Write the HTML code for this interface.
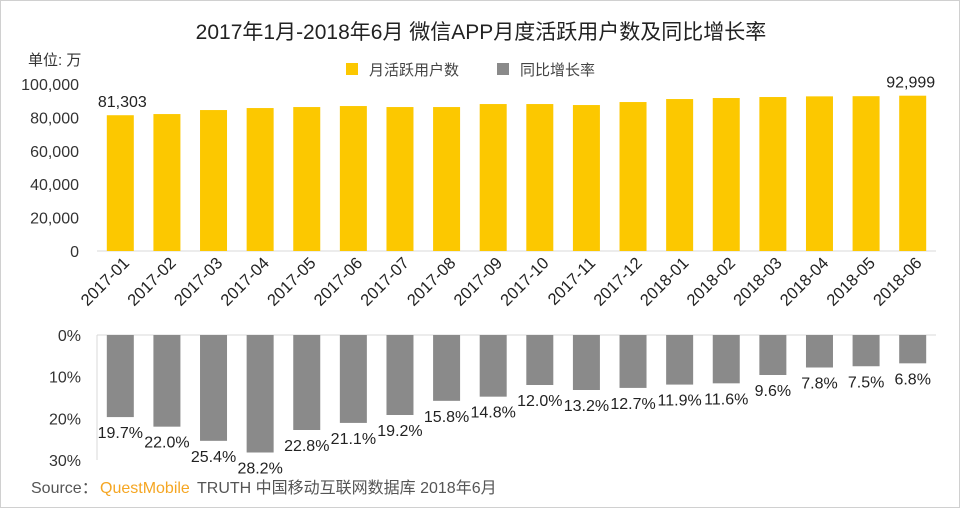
<!DOCTYPE html>
<html><head><meta charset="utf-8"><style>
html,body{margin:0;padding:0;background:#fff}
#wrap{position:relative;width:960px;height:508px;box-sizing:border-box;border:1px solid #d0d0d0;overflow:hidden}
svg text{font-family:"Liberation Sans","Noto Sans CJK SC",sans-serif}
</style></head><body>
<div id="wrap">
<svg id="svg" width="960" height="508" xmlns="http://www.w3.org/2000/svg">
<text x="480" y="38" text-anchor="middle" font-size="21" fill="#222" style="font-family:'Liberation Sans Narrow','Liberation Sans','Noto Sans CJK SC',sans-serif">2017年1月-2018年6月 微信APP月度活跃用户数及同比增长率</text>
<text x="27" y="64" font-size="15" fill="#333">单位: 万</text>
<rect x="345" y="62" width="12" height="12" fill="#fcc800"/>
<text x="368" y="74" font-size="15" fill="#444">月活跃用户数</text>
<rect x="496" y="62" width="12" height="12" fill="#8a8a8a"/>
<text x="519" y="74" font-size="15" fill="#444">同比增长率</text>
<text x="30" y="492" font-size="16" fill="#555">Source：</text>
<text x="99" y="492" font-size="16" fill="#f5a623">QuestMobile</text>
<text x="196" y="492" font-size="16" fill="#555">TRUTH 中国移动互联网数据库 2018年6月</text>
<g id="g"></g>
</svg>
</div>
<script>
const categories=["2017-01","2017-02","2017-03","2017-04","2017-05","2017-06","2017-07","2017-08","2017-09","2017-10","2017-11","2017-12","2018-01","2018-02","2018-03","2018-04","2018-05","2018-06"];
const mau=[81303,82000,84400,85600,86200,86800,86200,86200,88000,88000,87400,89200,91000,91600,92200,92600,92700,92999];
const growth=[19.7,22.0,25.4,28.2,22.8,21.1,19.2,15.8,14.8,12.0,13.2,12.7,11.9,11.6,9.6,7.8,7.5,6.8];
const mauTicks=[0,20000,40000,60000,80000,100000];
const growthTicks=[0,10,20,30];
const NS="http://www.w3.org/2000/svg";
const g=document.getElementById('g');
function el(t,a,txt){const e=document.createElementNS(NS,t);for(const k in a)e.setAttribute(k,a[k]);if(txt!==undefined)e.textContent=txt;g.appendChild(e);return e;}
const x0=96,x1=935,slot=(x1-x0)/categories.length,bw=27;
const xc=i=>x0+slot*(i+0.5);
const yTop=v=>250-v/100000*167;
const yBot=v=>334+v/30*125;
const ax=el('line',{x1:x0,y1:250,x2:x1,y2:250,stroke:'#d9d9d9','stroke-width':1});


mauTicks.forEach(t=>{
  const e=el('text',{x:78,y:yTop(t)+6,'text-anchor':'end','font-size':16,fill:'#333'},t.toLocaleString('en-US'));
  
  
});
mau.forEach((v,i)=>{
  const r=el('rect',{x:xc(i)-bw/2,y:yTop(v),width:bw,height:250-yTop(v),fill:'#fcc800'});
  
  
  const c=xc(i)+10,yy=263;
  const l=el('text',{x:c,y:yy,'text-anchor':'end','font-size':16.5,fill:'#222',transform:`rotate(-45 ${c} ${yy})`},categories[i]);
  
  
});
[0,mau.length-1].forEach(i=>{
  const e=el('text',{x:xc(i)+(i?-2:2),y:yTop(mau[i])-8,'text-anchor':'middle','font-size':16,fill:'#222'},mau[i].toLocaleString('en-US'));
  
  
});
const a2=el('line',{x1:x0,y1:334,x2:x1,y2:334,stroke:'#d9d9d9','stroke-width':1});


const a3=el('line',{x1:x0,y1:334,x2:x0,y2:459,stroke:'#d9d9d9','stroke-width':1});


growthTicks.forEach(t=>{
  const e=el('text',{x:80,y:yBot(t)+6,'text-anchor':'end','font-size':16,fill:'#333'},t+'%');
  
  
});
growth.forEach((v,i)=>{
  const r=el('rect',{x:xc(i)-bw/2,y:334,width:bw,height:yBot(v)-334,fill:'#8a8a8a'});
  
  
  const e=el('text',{x:xc(i),y:yBot(v)+21,'text-anchor':'middle','font-size':16,fill:'#222'},v.toFixed(1)+'%');
  
  
});
</script>
</body></html>
